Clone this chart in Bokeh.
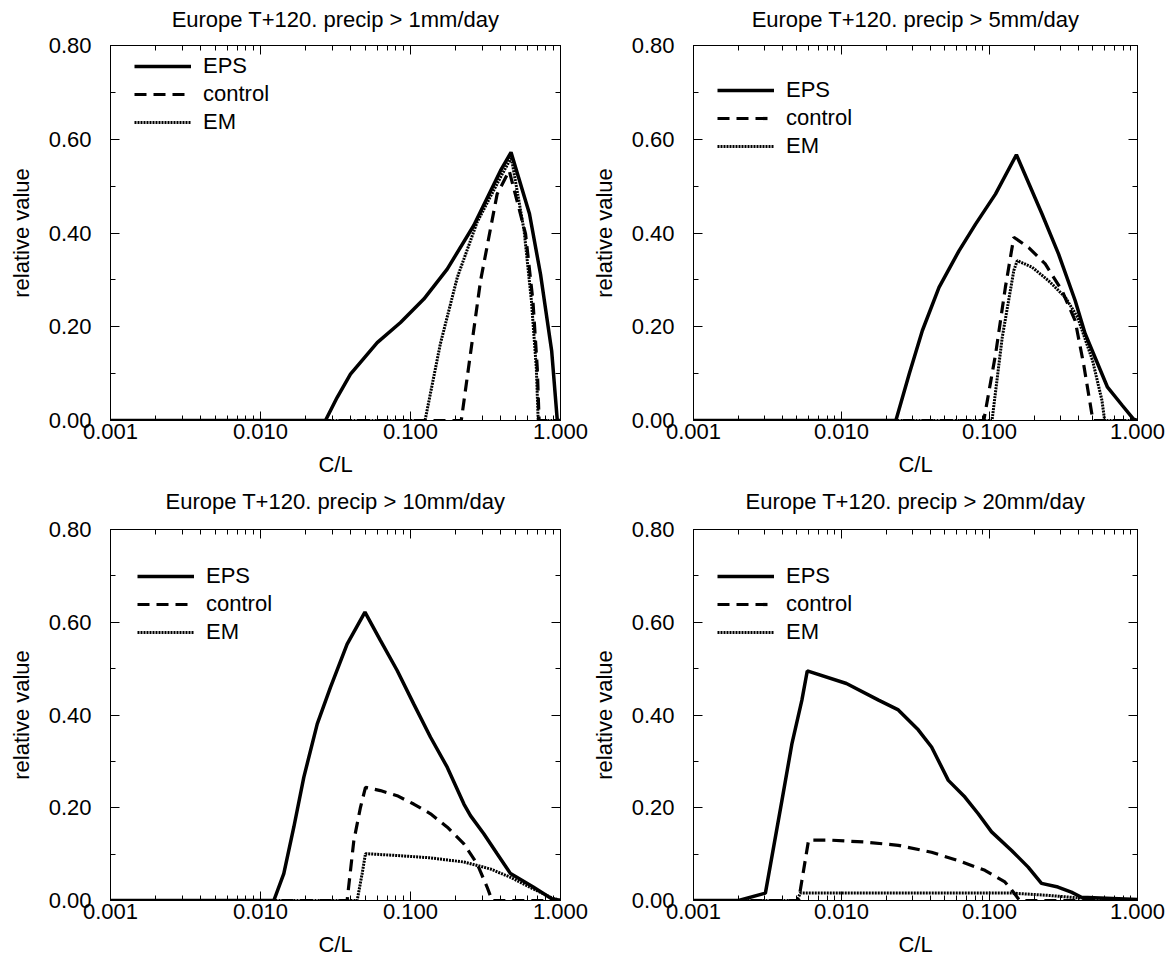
from bokeh.plotting import figure
from bokeh.models import (LogAxis, LinearAxis, Legend, LegendItem, PrintfTickFormatter,
                          FixedTicker, Range1d)
from bokeh.layouts import column, row
from bokeh.embed import file_html
from bokeh.resources import INLINE

# ---------------- data ----------------
titles = ["Europe T+120. precip > 1mm/day", "Europe T+120. precip > 5mm/day",
          "Europe T+120. precip > 10mm/day", "Europe T+120. precip > 20mm/day"]
series_names = ["EPS", "control", "EM"]
x_ticks = [0.001, 0.01, 0.1, 1.0]
y_ticks = [0.0, 0.2, 0.4, 0.6, 0.8]
y_minor = [0.1, 0.3, 0.5, 0.7]

# panel 1: > 1mm/day
p1_eps_x = [0.001, 0.0271, 0.0324, 0.0398, 0.060, 0.0858, 0.1227, 0.1757, 0.264, 0.398, 0.468, 0.621, 0.736, 0.873, 0.952, 1.0]
p1_eps_y = [0.0, 0.0, 0.049, 0.099, 0.166, 0.209, 0.259, 0.323, 0.416, 0.533, 0.572, 0.441, 0.312, 0.149, 0.0, 0.0]
p1_ctl_x = [0.001, 0.218, 0.293, 0.378, 0.455, 0.585, 0.655, 0.70, 0.72, 1.0]
p1_ctl_y = [0.0, 0.0, 0.298, 0.483, 0.533, 0.398, 0.255, 0.112, 0.0, 0.0]
p1_em_x = [0.001, 0.125, 0.158, 0.205, 0.278, 0.40, 0.47, 0.572, 0.64, 0.69, 0.71, 1.0]
p1_em_y = [0.0, 0.0, 0.163, 0.305, 0.423, 0.52, 0.561, 0.405, 0.255, 0.112, 0.0, 0.0]

# panel 2: > 5mm/day
p2_eps_x = [0.001, 0.0233, 0.0287, 0.0352, 0.0456, 0.0622, 0.0805, 0.1097, 0.152, 0.226, 0.293, 0.379, 0.443, 0.627, 0.79, 0.94, 1.0]
p2_eps_y = [0.0, 0.0, 0.0996, 0.192, 0.284, 0.362, 0.419, 0.483, 0.567, 0.441, 0.355, 0.256, 0.185, 0.071, 0.032, 0.003, 0.0]
p2_ctl_x = [0.001, 0.0915, 0.11, 0.128, 0.146, 0.184, 0.238, 0.309, 0.379, 0.432, 0.50, 1.0]
p2_ctl_y = [0.0, 0.0, 0.142, 0.284, 0.391, 0.369, 0.334, 0.277, 0.213, 0.121, 0.0, 0.0]
p2_em_x = [0.001, 0.104, 0.122, 0.146, 0.154, 0.194, 0.251, 0.325, 0.394, 0.497, 0.575, 0.60, 1.0]
p2_em_y = [0.0, 0.0, 0.178, 0.32, 0.341, 0.327, 0.298, 0.263, 0.22, 0.128, 0.043, 0.0, 0.0]

# panel 3: > 10mm/day
p3_eps_x = [0.001, 0.01227, 0.0143, 0.01667, 0.01945, 0.0239, 0.0293, 0.0378, 0.0497, 0.063, 0.0815, 0.105, 0.136, 0.176, 0.227, 0.251, 0.308, 0.378, 0.464, 0.658, 0.873, 1.0]
p3_eps_y = [0.0, 0.0, 0.058, 0.158, 0.266, 0.381, 0.46, 0.553, 0.622, 0.561, 0.496, 0.424, 0.352, 0.287, 0.208, 0.183, 0.144, 0.101, 0.058, 0.029, 0.004, 0.0]
p3_ctl_x = [0.001, 0.0378, 0.0419, 0.0464, 0.0501, 0.063, 0.0815, 0.105, 0.136, 0.176, 0.227, 0.278, 0.324, 0.35, 1.0]
p3_ctl_y = [0.0, 0.0, 0.129, 0.201, 0.244, 0.237, 0.226, 0.208, 0.187, 0.158, 0.122, 0.079, 0.029, 0.0, 0.0]
p3_em_x = [0.001, 0.0441, 0.0476, 0.0501, 0.0815, 0.136, 0.227, 0.341, 0.464, 0.658, 0.873, 1.0]
p3_em_y = [0.0, 0.0, 0.058, 0.101, 0.097, 0.092, 0.083, 0.068, 0.05, 0.025, 0.006, 0.0]

# panel 4: > 20mm/day
p4_eps_x = [0.001, 0.00202, 0.00306, 0.00396, 0.00463, 0.0054, 0.00587, 0.0108, 0.0178, 0.0242, 0.033, 0.0406, 0.0527, 0.0682, 0.0839, 0.1033, 0.141, 0.1825, 0.2245, 0.29, 0.357, 0.418, 1.0]
p4_eps_y = [0.0, 0.0, 0.016, 0.216, 0.339, 0.432, 0.495, 0.468, 0.432, 0.411, 0.368, 0.331, 0.259, 0.223, 0.187, 0.148, 0.108, 0.072, 0.037, 0.029, 0.018, 0.007, 0.002]
p4_ctl_x = [0.001, 0.00513, 0.0054, 0.00599, 0.0086, 0.0145, 0.0242, 0.0406, 0.0615, 0.0931, 0.127, 0.141, 0.16, 1.0]
p4_ctl_y = [0.0, 0.0, 0.043, 0.13, 0.13, 0.126, 0.119, 0.104, 0.086, 0.065, 0.04, 0.023, 0.0, 0.0]
p4_em_x = [0.001, 0.005, 0.00527, 0.006, 0.141, 0.249, 0.418, 1.0]
p4_em_y = [0.0, 0.0, 0.016, 0.016, 0.016, 0.011, 0.005, 0.0]

# ---------------- styling ----------------
FONT = "Liberation Sans"
x_minor = [m * d for d in (0.001, 0.01, 0.1) for m in range(2, 10)]


def style_axis(ax, show_labels):
    ax.axis_line_color = "black"
    ax.axis_line_width = 1
    ax.major_tick_in = 9
    ax.major_tick_out = 0
    ax.minor_tick_in = 5
    ax.minor_tick_out = 0
    ax.major_tick_line_color = "black"
    ax.minor_tick_line_color = "black"
    ax.major_label_text_font = FONT
    ax.major_label_text_color = "black"
    ax.axis_label_text_font = FONT
    ax.axis_label_text_font_style = "normal"
    ax.axis_label_text_color = "black"
    if not show_labels:
        ax.major_label_text_font_size = "1px"
        ax.major_label_text_alpha = 0
        ax.major_label_standoff = 0


def make_panel(title, data, fw, fh, bl, br, bt, bb, leg_xy, title_standoff):
    p = figure(x_axis_type="log", x_range=Range1d(0.001, 1.0), y_range=Range1d(0.0, 0.8),
               frame_width=fw, frame_height=fh,
               min_border_left=bl, min_border_right=br, min_border_top=bt, min_border_bottom=bb,
               output_backend="svg", toolbar_location=None)
    p.grid.visible = False
    p.outline_line_color = "black"
    p.outline_line_width = 1
    p.background_fill_color = "white"
    p.border_fill_color = "white"

    xt = FixedTicker(ticks=x_ticks, minor_ticks=x_minor)
    yt = FixedTicker(ticks=y_ticks, minor_ticks=y_minor)

    xa = p.xaxis[0]
    xa.ticker = xt
    xa.formatter = PrintfTickFormatter(format="%.3f")
    xa.axis_label = "C/L"
    style_axis(xa, True)
    xa.major_label_text_font_size = "22px"
    xa.axis_label_text_font_size = "22px"
    xa.major_label_standoff = 3
    xa.axis_label_standoff = 10

    ya = p.yaxis[0]
    ya.ticker = yt
    ya.formatter = PrintfTickFormatter(format="%.2f")
    ya.axis_label = "relative value"
    style_axis(ya, True)
    ya.major_label_text_font_size = "22px"
    ya.axis_label_text_font_size = "22px"
    ya.major_label_standoff = 19
    ya.axis_label_standoff = 12

    # top axis: ticks only, its axis label serves as the panel title
    top = LogAxis(ticker=xt)
    style_axis(top, False)
    top.axis_label = title
    top.axis_label_text_font_size = "22px"
    top.axis_label_standoff = title_standoff
    p.add_layout(top, "above")
    right = LinearAxis(ticker=yt)
    style_axis(right, False)
    p.add_layout(right, "right")

    (ex, ey), (cx, cy), (mx, my) = data
    r_eps = p.line(ex, ey, line_color="black", line_width=3.5)
    r_ctl = p.line(cx, cy, line_color="black", line_width=3.2, line_dash="12 7")
    r_em = p.line(mx, my, line_color="black", line_width=3, line_dash="2 1")

    leg = Legend(items=[LegendItem(label=series_names[0], renderers=[r_eps]),
                        LegendItem(label=series_names[1], renderers=[r_ctl]),
                        LegendItem(label=series_names[2], renderers=[r_em])],
                 location=leg_xy)
    leg.border_line_color = None
    leg.background_fill_alpha = 0
    leg.label_text_font = FONT
    leg.label_text_font_size = "22px"
    leg.label_text_color = "black"
    leg.glyph_width = 57
    leg.glyph_height = 20
    leg.label_height = 20
    leg.label_standoff = 12
    leg.spacing = 2
    leg.padding = 0
    leg.margin = 0
    p.add_layout(leg)
    return p


p1 = make_panel(titles[0], [(p1_eps_x, p1_eps_y), (p1_ctl_x, p1_ctl_y), (p1_em_x, p1_em_y)],
                450, 375, 110, 28, 45, 61, (24, 285), 14)
p2 = make_panel(titles[1], [(p2_eps_x, p2_eps_y), (p2_ctl_x, p2_ctl_y), (p2_em_x, p2_em_y)],
                444, 375, 97, 33, 45, 61, (24, 261), 14)
p3 = make_panel(titles[2], [(p3_eps_x, p3_eps_y), (p3_ctl_x, p3_ctl_y), (p3_em_x, p3_em_y)],
                450, 371, 110, 28, 48, 61, (27, 255), 16)
p4 = make_panel(titles[3], [(p4_eps_x, p4_eps_y), (p4_ctl_x, p4_ctl_y), (p4_em_x, p4_em_y)],
                444, 371, 97, 33, 48, 61, (24, 255), 16)

layout = column(row(p1, p2), row(p3, p4))
open("out.html", "w").write(file_html(layout, INLINE))
